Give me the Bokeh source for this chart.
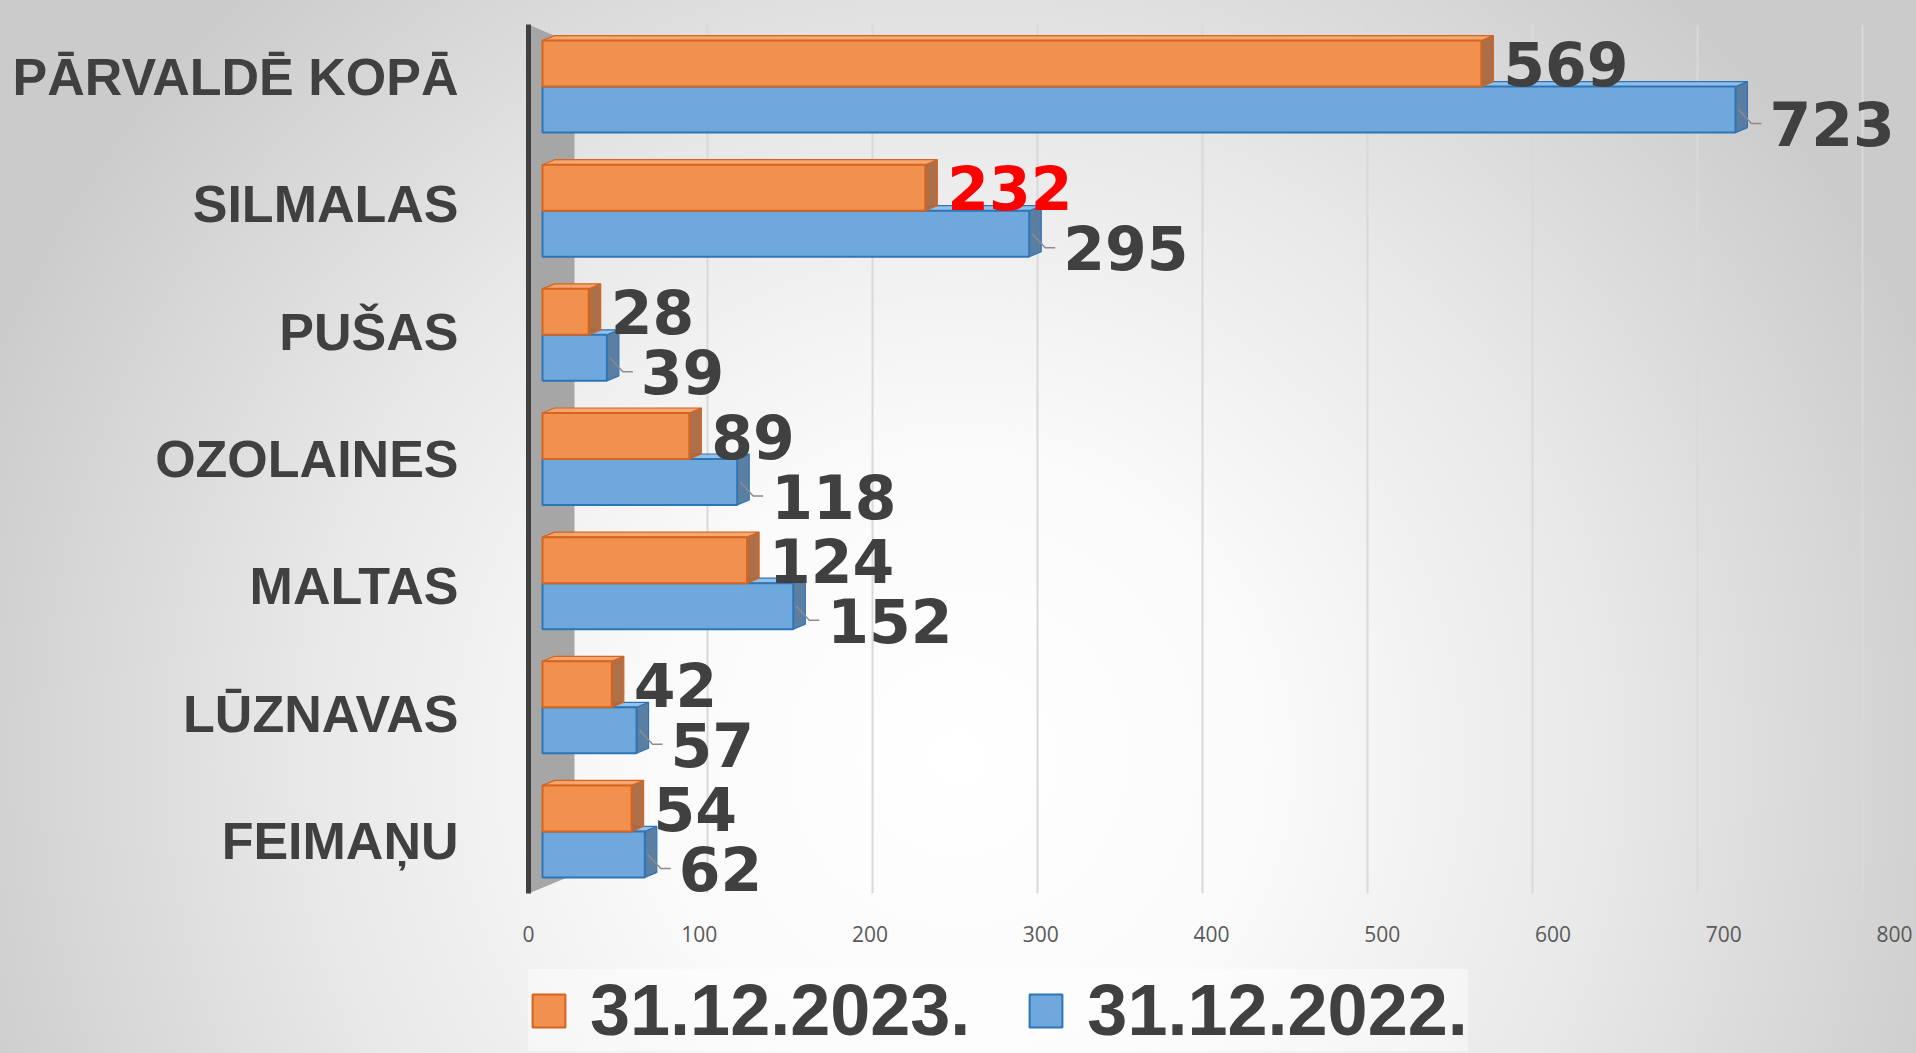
import numpy as np
from bokeh.plotting import figure
from bokeh.layouts import column
from bokeh.models import (ColumnDataSource, Range1d, FactorRange, CategoricalAxis, LinearAxis,
                          Grid, FixedTicker, Legend, LegendItem, PolyAnnotation)
from bokeh.core.properties import value
from bokeh.embed import file_html
from bokeh.resources import INLINE

# ---------------- data ----------------
categories = ["PĀRVALDĒ KOPĀ", "SILMALAS", "PUŠAS", "OZOLAINES", "MALTAS", "LŪZNAVAS", "FEIMAŅU"]
series_labels = ["31.12.2023.", "31.12.2022."]
values_2023 = [569, 232, 28, 89, 124, 42, 54]
values_2022 = [723, 295, 39, 118, 152, 57, 62]
tick_values = [0, 100, 200, 300, 400, 500, 600, 700, 800]
highlight_category = "SILMALAS"

# ---------------- layout ----------------
W, H = 1916, 1053
H1 = 950                     # chart part
H2 = H - H1                  # legend strip
LEFT, RIGHT, TOP, BOTTOM = 528, 8, 24, 57
FW = W - LEFT - RIGHT
FH = H1 - TOP - BOTTOM
PX_X = 1.65                 # pixels per value unit for the bars
TICK_PX = 1366 / 800        # pixels per value unit for the front tick labels
X0 = -14 / PX_X
X1 = X0 + FW / PX_X
n = len(categories)
PX_Y = FH / n


def ux(px):
    return px / PX_X


def uy(px):
    return px / PX_Y


factors = categories[::-1]
centers = np.array([n - 1 - i + 0.5 for i in range(n)])

DX = ux(12)
DY = uy(5)
BH = uy(46)

ORANGE = dict(front="#f1904f", line="#d4641f", top="#f6a46c", side="#a9683f")
BLUE = dict(front="#6fa8dc", line="#2e75b6", top="#8fbde8", side="#52789e")
TEXT = "#404040"

p = figure(width=W, height=H1, x_range=Range1d(X0, X1), y_range=FactorRange(factors=factors),
           output_backend="svg", toolbar_location=None, title=None,
           x_axis_location=None, y_axis_location=None,
           min_border_left=LEFT, min_border_right=RIGHT, min_border_top=TOP, min_border_bottom=BOTTOM,
           background_fill_alpha=0, border_fill_alpha=0, outline_line_color=None)

for g in p.grid:
    g.visible = False

p.extra_x_ranges = {"ticks": Range1d(tick_values[0], FW / TICK_PX)}
p.extra_y_ranges = {"labels": FactorRange(factors=factors, range_padding=-0.092,
                                          range_padding_units="absolute")}

# grid lines (back wall)
p.add_layout(Grid(dimension=0, ticker=FixedTicker(ticks=tick_values[1:]),
                  grid_line_color="#d9d9d9", grid_line_width=2))

# grey side wall
wall_r = X0 + ux(46)
p.add_layout(PolyAnnotation(xs=[X0, wall_r, wall_r, X0],
                            ys=[n, n - uy(20), uy(19), 0],
                            fill_color="#a6a6a6", fill_alpha=1, line_color=None, level="underlay"))


def draw_series(vals, bottoms, col):
    vals = np.array(vals, dtype=float)
    tops = bottoms + BH
    side = ColumnDataSource(dict(
        xs=[[v, v + DX, v + DX, v] for v in vals],
        ys=[[b, b + DY, t + DY, t] for b, t in zip(bottoms, tops)]))
    topf = ColumnDataSource(dict(
        xs=[[0, v, v + DX, DX] for v in vals],
        ys=[[t, t, t + DY, t + DY] for t in tops]))
    p.patches("xs", "ys", source=side, fill_color=col["side"], fill_alpha=0.95,
              line_color=col["line"], line_width=1.2)
    p.patches("xs", "ys", source=topf, fill_color=col["top"], fill_alpha=0.95,
              line_color=col["line"], line_width=1.2)
    p.quad(left=np.zeros(len(vals)), right=vals, bottom=bottoms, top=tops,
           fill_color=col["front"], line_color=col["line"], line_width=2)


draw_series(values_2022, centers - BH, BLUE)
draw_series(values_2023, centers, ORANGE)

# leader lines for the 2022 labels
v22 = np.array(values_2022, dtype=float)
lab22_y = centers - BH / 2 - uy(14)
lab22_x = v22 + ux(34)
p.multi_line(xs=[[v + ux(3), v + DX + ux(4), v + ux(26)] for v in v22],
             ys=[[c - BH / 2, ly, ly] for c, ly in zip(centers, lab22_y)],
             line_color="#8c8c8c", line_width=1.5)

# value labels
v23 = np.array(values_2023, dtype=float)
col23 = ["#ff0000" if c == highlight_category else TEXT for c in categories]
p.text(x=v23 + ux(22), y=centers + BH / 2, text=[str(v) for v in values_2023],
       text_color=col23, text_font=value("DejaVu Sans"), text_font_style="bold",
       text_font_size="60px", text_align="left", text_baseline="middle")
p.text(x=lab22_x, y=lab22_y, text=[str(v) for v in values_2022],
       text_color=TEXT, text_font=value("DejaVu Sans"), text_font_style="bold",
       text_font_size="60px", text_align="left", text_baseline="middle")

# axes
xaxis = LinearAxis(x_range_name="ticks", ticker=FixedTicker(ticks=tick_values))
xaxis.axis_line_color = None
xaxis.major_tick_line_color = None
xaxis.minor_tick_line_color = None
xaxis.major_label_text_font = "Open Sans"
xaxis.major_label_text_font_size = "21px"
xaxis.major_label_text_color = "#595959"
xaxis.major_label_standoff = 26
p.add_layout(xaxis, "below")

yaxis = CategoricalAxis(y_range_name="labels")
yaxis.axis_line_color = TEXT
yaxis.axis_line_width = 5
yaxis.major_tick_line_color = None
yaxis.minor_tick_line_color = None
yaxis.major_label_text_font = "Liberation Sans"
yaxis.major_label_text_font_style = "bold"
yaxis.major_label_text_font_size = "52px"
yaxis.major_label_text_color = TEXT
yaxis.major_label_standoff = 64
p.add_layout(yaxis, "left")

# ---------------- legend strip ----------------
p2 = figure(width=W, height=H2, x_range=Range1d(0, 1), y_range=Range1d(0, 1),
            output_backend="svg", toolbar_location=None, title=None,
            x_axis_location=None, y_axis_location=None,
            min_border_left=0, min_border_right=0, min_border_top=0, min_border_bottom=0,
            background_fill_alpha=0, border_fill_alpha=0, outline_line_color=None)
for g in p2.grid:
    g.visible = False

# legend swatches only (no drawable geometry)
nan_row = dict(left=[np.nan], right=[np.nan], bottom=[np.nan], top=[np.nan])
leg_orange = p2.quad(left="left", right="right", bottom="bottom", top="top",
                     source=ColumnDataSource(dict(nan_row)),
                     fill_color=ORANGE["front"], line_color=ORANGE["line"], line_width=2)
leg_blue = p2.quad(left="left", right="right", bottom="bottom", top="top",
                   source=ColumnDataSource(dict(nan_row)),
                   fill_color=BLUE["front"], line_color=BLUE["line"], line_width=2)

legend = Legend(items=[LegendItem(label=series_labels[0], renderers=[leg_orange]),
                       LegendItem(label=series_labels[1], renderers=[leg_blue])],
                orientation="horizontal", location=(0, 2),
                glyph_width=41, glyph_height=41, label_standoff=21, spacing=55,
                padding=8, margin=0,
                label_text_font="Liberation Sans", label_text_font_style="bold",
                label_text_font_size="72px", label_text_color=TEXT,
                background_fill_color="white", background_fill_alpha=0.45,
                border_line_color=None)
p2.add_layout(legend, "center")

layout = column(p, p2, spacing=0)

html = file_html(layout, INLINE)
css = ("<style>html, body {background: radial-gradient(ellipse 55% 100% at 50% 72%, "
       "#ffffff 0%, #fafafa 30%, #e8e8e8 62%, #cbcbcb 100%) !important; min-height: 100%;}</style>")
html = html.replace("</head>", css + "</head>", 1)
open("out.html", "w").write(html)
